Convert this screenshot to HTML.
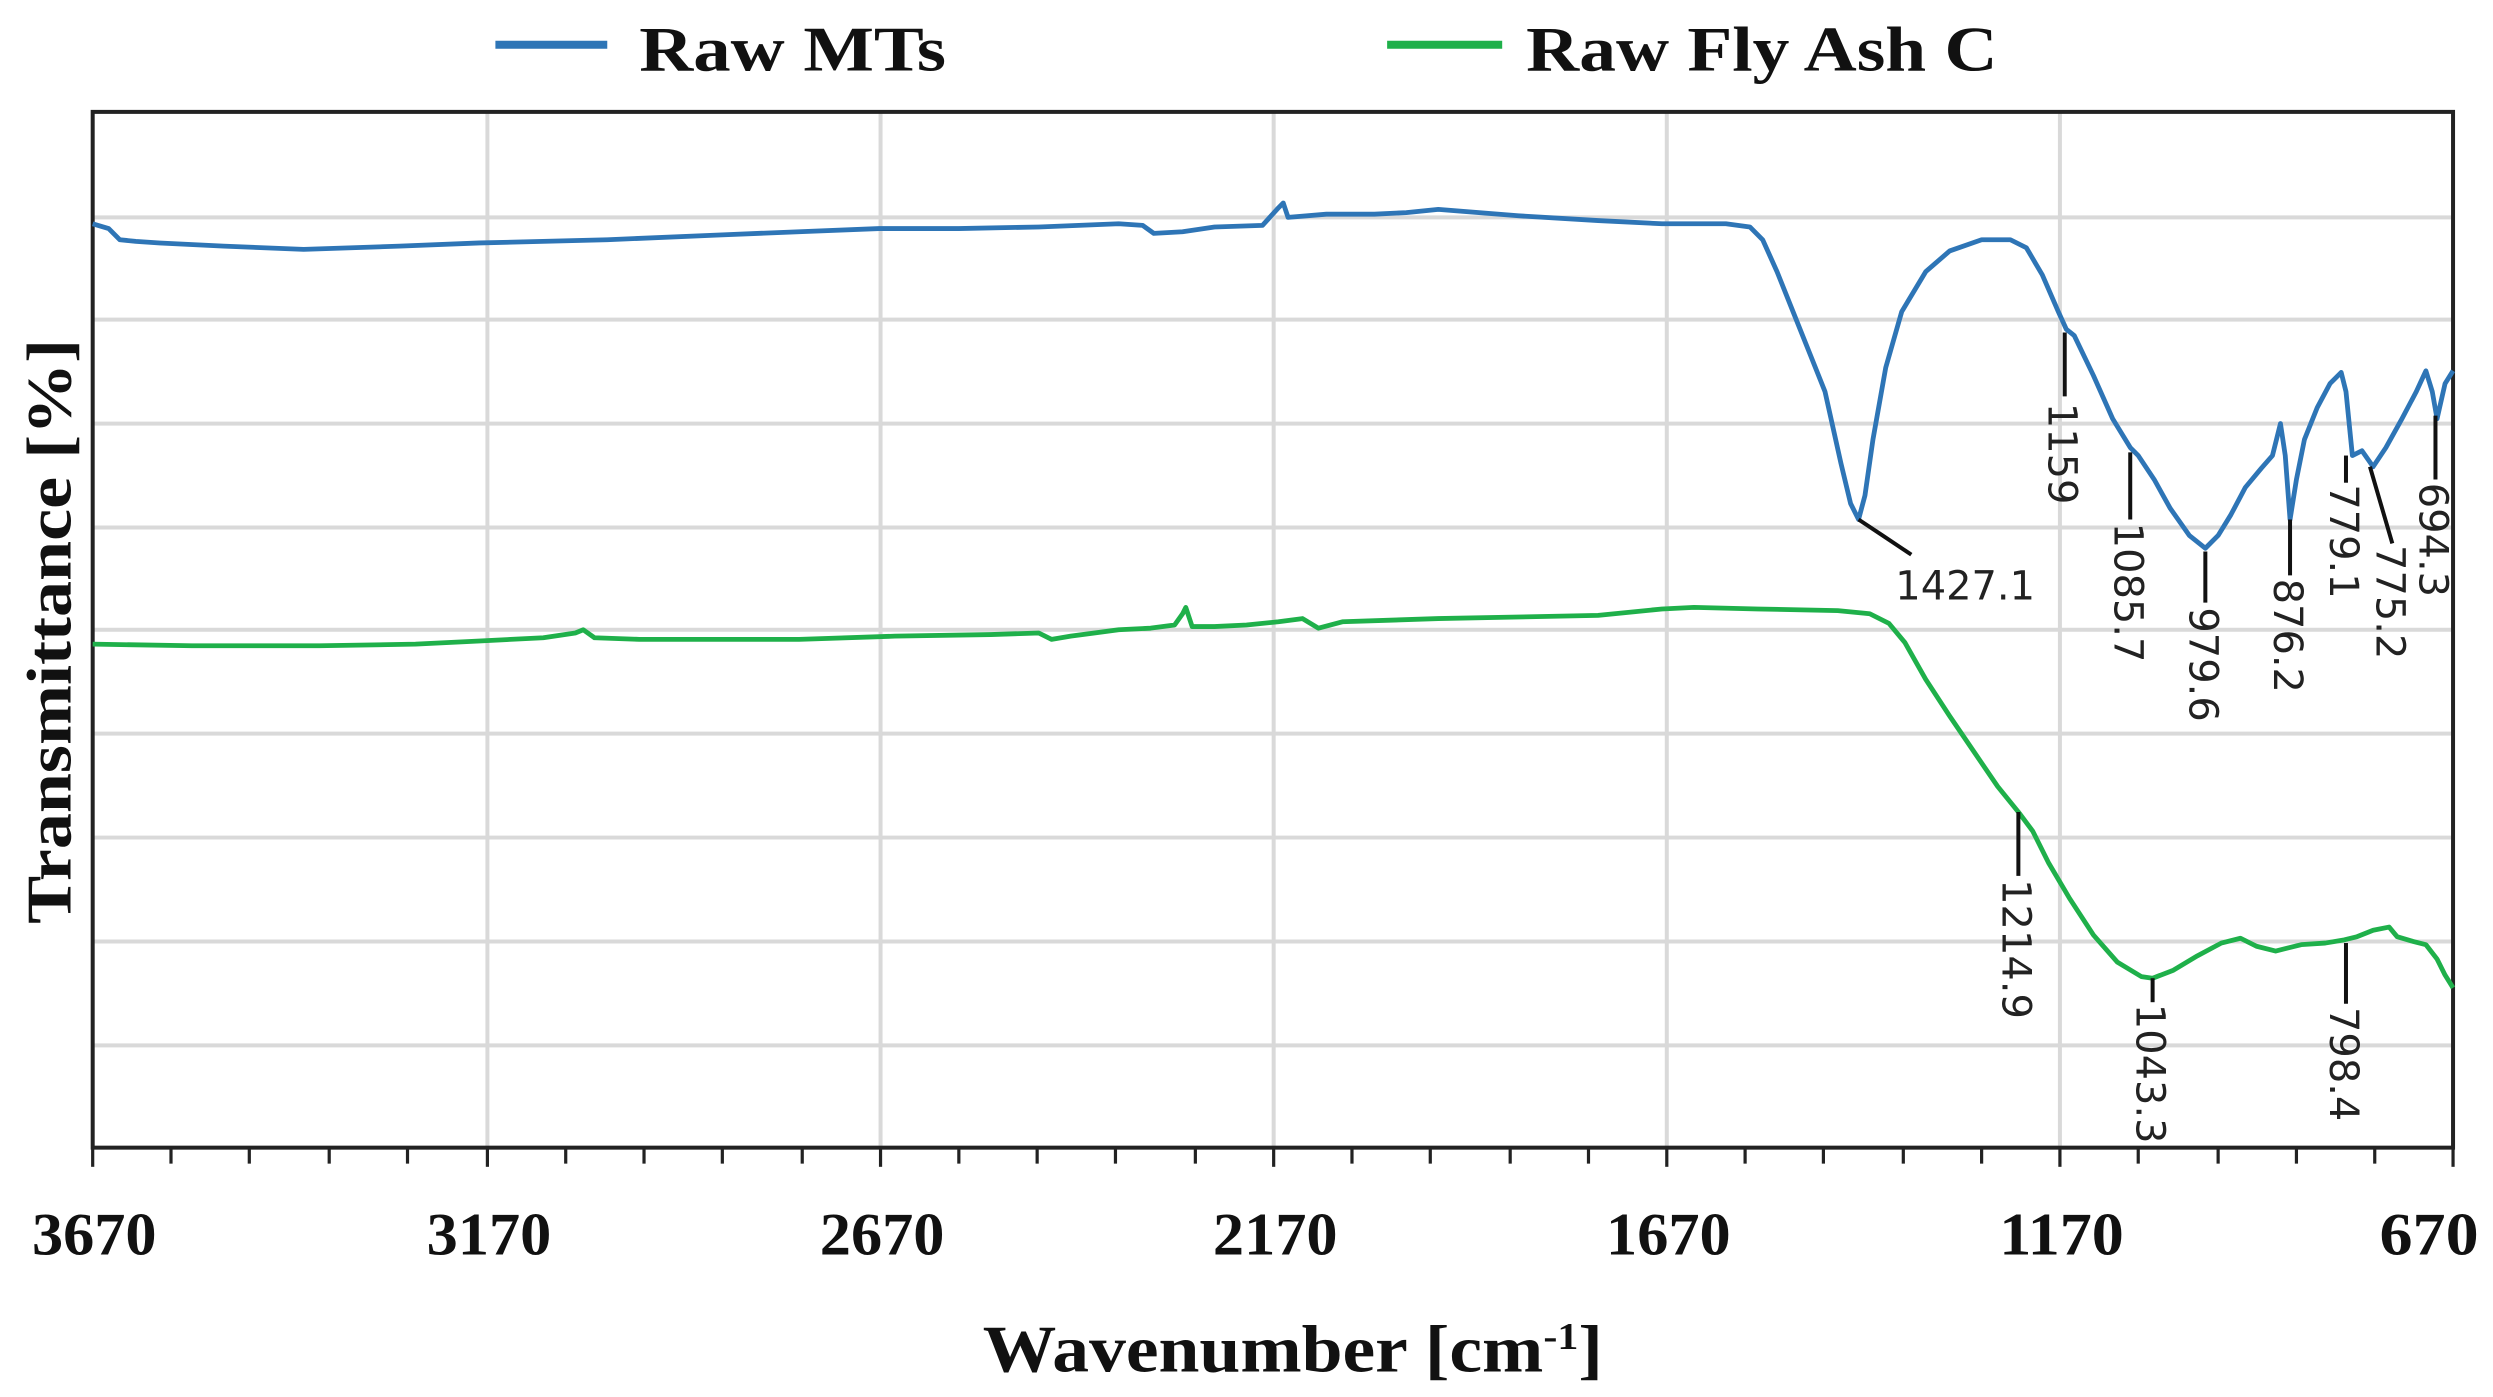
<!DOCTYPE html>
<html><head><meta charset="utf-8"><style>html,body{margin:0;padding:0;background:#fff}svg{display:block}</style></head>
<body>
<svg width="2493" height="1397" viewBox="0 0 1560 874" preserveAspectRatio="none" xmlns="http://www.w3.org/2000/svg">
<rect width="1560" height="874" fill="#fff"/>
<g stroke="#d9d9d9" stroke-width="2.5">
<line x1="58" y1="136" x2="1535" y2="136"/><line x1="58" y1="200" x2="1535" y2="200"/>
<line x1="58" y1="265" x2="1535" y2="265"/><line x1="58" y1="330" x2="1535" y2="330"/>
<line x1="58" y1="394" x2="1535" y2="394"/><line x1="58" y1="459" x2="1535" y2="459"/>
<line x1="58" y1="524" x2="1535" y2="524"/><line x1="58" y1="589" x2="1535" y2="589"/>
<line x1="58" y1="654" x2="1535" y2="654"/>
<line x1="305" y1="70" x2="305" y2="718"/><line x1="551" y1="70" x2="551" y2="718"/>
<line x1="797" y1="70" x2="797" y2="718"/><line x1="1043" y1="70" x2="1043" y2="718"/>
<line x1="1289" y1="70" x2="1289" y2="718"/>
</g>
<rect x="58" y="70" width="1477" height="648" fill="none" stroke="#222" stroke-width="2.5"/>
<g stroke="#222" stroke-width="2">
<line x1="58" y1="718" x2="58" y2="730"/><line x1="107" y1="718" x2="107" y2="728"/><line x1="156" y1="718" x2="156" y2="728"/><line x1="206" y1="718" x2="206" y2="728"/><line x1="255" y1="718" x2="255" y2="728"/><line x1="305" y1="718" x2="305" y2="730"/><line x1="354" y1="718" x2="354" y2="728"/><line x1="403" y1="718" x2="403" y2="728"/><line x1="452" y1="718" x2="452" y2="728"/><line x1="502" y1="718" x2="502" y2="728"/><line x1="551" y1="718" x2="551" y2="730"/><line x1="600" y1="718" x2="600" y2="728"/><line x1="649" y1="718" x2="649" y2="728"/><line x1="698" y1="718" x2="698" y2="728"/><line x1="748" y1="718" x2="748" y2="728"/><line x1="797" y1="718" x2="797" y2="730"/><line x1="846" y1="718" x2="846" y2="728"/><line x1="895" y1="718" x2="895" y2="728"/><line x1="945" y1="718" x2="945" y2="728"/><line x1="994" y1="718" x2="994" y2="728"/><line x1="1043" y1="718" x2="1043" y2="730"/><line x1="1092" y1="718" x2="1092" y2="728"/><line x1="1141" y1="718" x2="1141" y2="728"/><line x1="1191" y1="718" x2="1191" y2="728"/><line x1="1240" y1="718" x2="1240" y2="728"/><line x1="1289" y1="718" x2="1289" y2="730"/><line x1="1338" y1="718" x2="1338" y2="728"/><line x1="1388" y1="718" x2="1388" y2="728"/><line x1="1437" y1="718" x2="1437" y2="728"/><line x1="1486" y1="718" x2="1486" y2="728"/><line x1="1535" y1="718" x2="1535" y2="730"/>
</g>
<g font-family="Liberation Serif, serif" font-weight="bold" font-size="38" fill="#111" text-anchor="middle">
<text x="59" y="785" textLength="78" lengthAdjust="spacingAndGlyphs">3670</text>
<text x="306" y="785" textLength="78" lengthAdjust="spacingAndGlyphs">3170</text>
<text x="552" y="785" textLength="78" lengthAdjust="spacingAndGlyphs">2670</text>
<text x="798" y="785" textLength="78" lengthAdjust="spacingAndGlyphs">2170</text>
<text x="1044" y="785" textLength="78" lengthAdjust="spacingAndGlyphs">1670</text>
<text x="1290" y="785" textLength="78" lengthAdjust="spacingAndGlyphs">1170</text>
<text x="1520" y="785" textLength="62" lengthAdjust="spacingAndGlyphs">670</text>
<text x="615" y="858" font-size="42" text-anchor="start" textLength="388" lengthAdjust="spacingAndGlyphs">Wavenumber [cm<tspan font-size="24" dy="-14">-1</tspan><tspan dy="14">]</tspan></text>
<text transform="translate(44,395) rotate(-90)" font-size="40" textLength="366" lengthAdjust="spacingAndGlyphs">Transmittance [%]</text>
<text x="400" y="44" font-size="40" text-anchor="start" textLength="192" lengthAdjust="spacingAndGlyphs">Raw MTs</text>
<text x="955" y="44" font-size="40" text-anchor="start" textLength="295" lengthAdjust="spacingAndGlyphs">Raw Fly Ash C</text>
</g>
<line x1="310" y1="28" x2="380" y2="28" stroke="#2e75b6" stroke-width="5"/>
<line x1="868" y1="28" x2="940" y2="28" stroke="#1fb04a" stroke-width="5"/>
<polyline fill="none" stroke="#2e75b6" stroke-width="3" stroke-linejoin="round" points="58,140 68,143 75,150 85,151 100,152 140,154 190,156 250,154 300,152 380,150 450,147 500,145 550,143 600,143 650,142 700,140 715,141 722,146 740,145 760,142 790,141 800,130 803,127 806,136 830,134 860,134 880,133 900,131 950,135 1000,138 1040,140 1080,140 1095,142 1103,150 1112,170 1122,195 1132,220 1142,245 1152,290 1158,315 1163,325 1167,310 1172,275 1180,230 1190,195 1205,170 1220,157 1240,150 1258,150 1268,155 1278,172 1288,195 1293,206 1298,210 1310,235 1322,262 1333,280 1338,285 1348,300 1358,318 1370,335 1380,343 1388,335 1396,322 1405,305 1415,293 1422,285 1427,265 1430,285 1433,325 1437,300 1442,275 1450,255 1458,240 1465,233 1468,245 1472,285 1478,282 1485,292 1493,280 1503,262 1512,245 1518,232 1522,245 1525,262 1530,240 1535,232"/>
<polyline fill="none" stroke="#1fb04a" stroke-width="3" stroke-linejoin="round" points="58,403 120,404 200,404 260,403 300,401 340,399 360,396 365,394 372,399 400,400 450,400 500,400 560,398 620,397 650,396 658,400 670,398 700,394 720,393 735,391 740,384 742,380 746,392 760,392 780,391 800,389 815,387 825,393 840,389 870,388 900,387 950,386 1000,385 1040,381 1060,380 1100,381 1150,382 1170,384 1182,390 1192,402 1205,425 1220,448 1235,470 1250,492 1263,508 1272,520 1282,540 1295,562 1310,585 1325,602 1340,611 1347,612 1360,607 1375,598 1390,590 1402,587 1412,592 1424,595 1440,591 1455,590 1467,588 1475,586 1485,582 1495,580 1500,586 1510,589 1518,591 1525,600 1530,610 1535,618"/>
<g stroke="#111" stroke-width="2.5" fill="none">
<polyline points="1163,325 1178,335 1196,347"/>
<line x1="1292" y1="208" x2="1292" y2="248"/>
<line x1="1333" y1="283" x2="1333" y2="325"/>
<line x1="1380" y1="345" x2="1380" y2="377"/>
<line x1="1433" y1="325" x2="1433" y2="360"/>
<line x1="1468" y1="285" x2="1468" y2="302"/>
<line x1="1483" y1="292" x2="1497" y2="340"/>
<line x1="1524" y1="260" x2="1524" y2="300"/>
<line x1="1263" y1="508" x2="1263" y2="548"/>
<line x1="1347" y1="612" x2="1347" y2="627"/>
<line x1="1468" y1="590" x2="1468" y2="628"/>
</g>
<g font-family="DejaVu Sans, Liberation Sans, sans-serif" font-size="25" fill="#222">
<text x="1186" y="375">1427.1</text>
<text transform="translate(1282,252) rotate(90)">1159</text>
<text transform="translate(1323,327) rotate(90)">1085.7</text>
<text transform="translate(1370,380) rotate(90)">979.6</text>
<text transform="translate(1423,362) rotate(90)">876.2</text>
<text transform="translate(1458,303) rotate(90)">779.1</text>
<text transform="translate(1487,341) rotate(90)">775.2</text>
<text transform="translate(1514,302) rotate(90)">694.3</text>
<text transform="translate(1253,550) rotate(90)">1214.9</text>
<text transform="translate(1337,628) rotate(90)">1043.3</text>
<text transform="translate(1458,630) rotate(90)">798.4</text>
</g>
</svg>
</body></html>
